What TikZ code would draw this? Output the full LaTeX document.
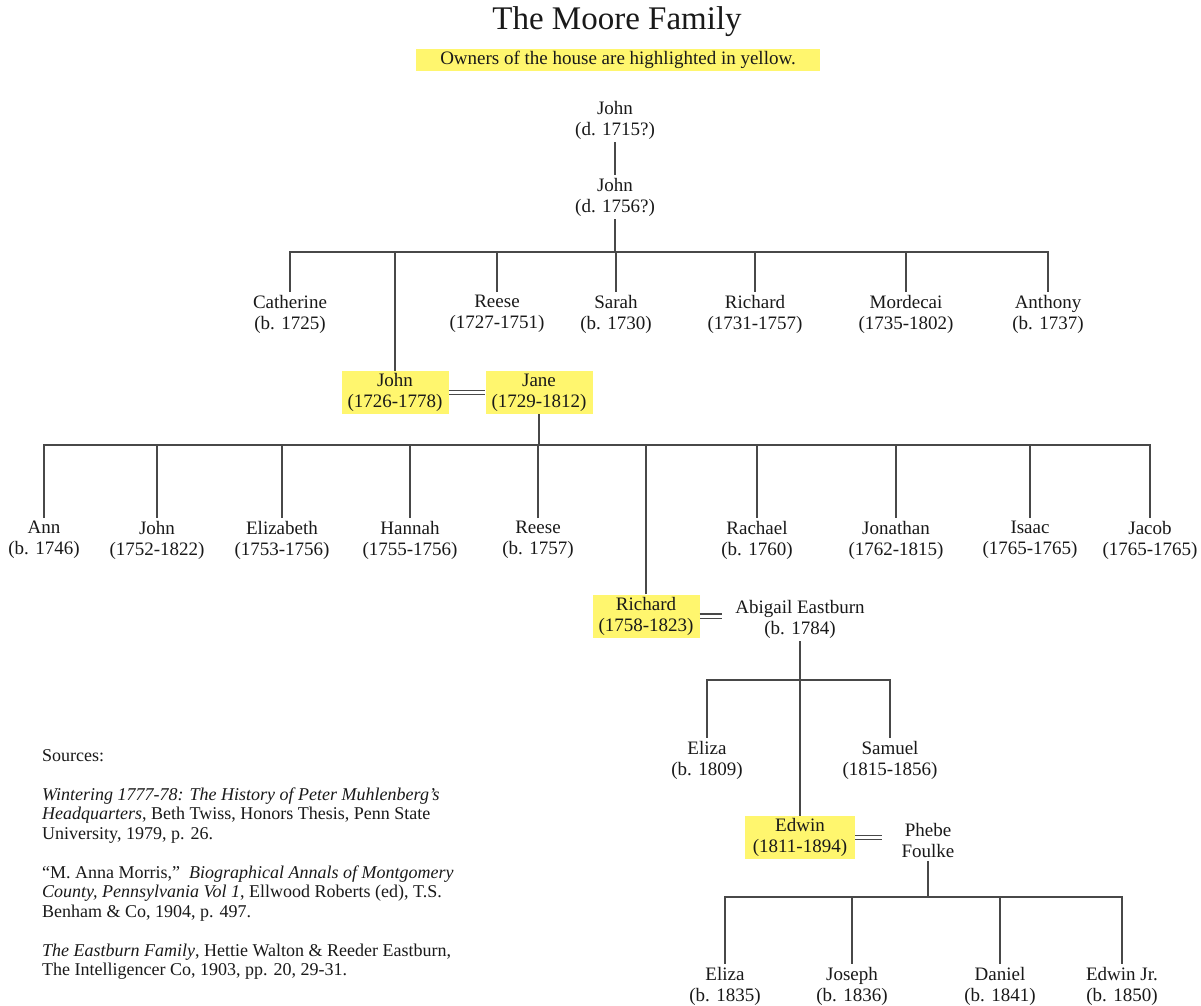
\documentclass[tikz,border=0pt]{standalone}
\usepackage{fontspec}
\setmainfont{Liberation Serif}
\definecolor{hl}{RGB}{255,246,110}
\definecolor{ln}{RGB}{72,72,72}
\begin{document}
\begin{tikzpicture}[x=1pt,y=-1pt,
  person/.style={align=center,font=\fontsize{19}{21}\selectfont,inner sep=3pt,text=black!90},
  owner/.style={person,fill=hl,minimum width=107,minimum height=43,inner sep=0pt},
  link/.style={draw=ln,line width=1.5pt},
  wed/.style={draw=ln,double=white,double distance=3pt,line width=1.2pt}]
\useasboundingbox[fill=white] (0,0) rectangle (1201,1005);

\node[font=\fontsize{33}{36}\selectfont,text=black!90] (title) at (617,22) {The Moore Family};
\node[fill=hl,minimum width=404,minimum height=22,inner sep=0pt,font=\fontsize{19}{21}\selectfont,text=black!90] (sub) at (618,60) {Owners of the house are highlighted in yellow.};

% generation 0/1
\node[person] (j1) at (615,120) {John\\(d. 1715?)};
\node[person] (j2) at (615,197) {John\\(d. 1756?)};
\draw[link] (j1.south) -- (j2.north);

% generation 2
\node[person] (cat)    at (290,314) {Catherine\\(b. 1725)};
\node[person] (reese1) at (497,314) {Reese\\(1727-1751)};
\node[person] (sarah)  at (616,314) {Sarah\\(b. 1730)};
\node[person] (rich1)  at (755,314) {Richard\\(1731-1757)};
\node[person] (mord)   at (906,314) {Mordecai\\(1735-1802)};
\node[person] (anth)   at (1048,314) {Anthony\\(b. 1737)};
\node[owner]  (jn)     at (395,392.5) {John\\(1726-1778)};
\node[owner]  (jane)   at (539,392.5) {Jane\\(1729-1812)};

\coordinate (b1) at (615,252);
\draw[link] (j2.south) -- (b1);
\draw[link] (cat.north) |- (b1 -| anth.north) -- (anth.north);
\foreach \n in {jn,reese1,sarah,rich1,mord} \draw[link] (\n.north) -- (\n.north |- b1);
\draw[wed] (jn.east) -- (jane.west);

% generation 3
\node[person] (ann)    at (44,540)   {Ann\\(b. 1746)};
\node[person] (john3)  at (157,540)  {John\\(1752-1822)};
\node[person] (eliz)   at (282,540)  {Elizabeth\\(1753-1756)};
\node[person] (hann)   at (410,540)  {Hannah\\(1755-1756)};
\node[person] (reese2) at (538,540)  {Reese\\(b. 1757)};
\node[person] (rach)   at (757,540)  {Rachael\\(b. 1760)};
\node[person] (jona)   at (896,540)  {Jonathan\\(1762-1815)};
\node[person] (isaac)  at (1030,540) {Isaac\\(1765-1765)};
\node[person] (jacob)  at (1150,540) {Jacob\\(1765-1765)};
\node[owner]  (rich2)  at (646,616)  {Richard\\(1758-1823)};

\coordinate (b2) at (539,445);
\draw[link] (jane.south) -- (b2);
\draw[link] (ann.north) |- (b2 -| jacob.north) -- (jacob.north);
\foreach \n in {john3,eliz,hann,reese2,rich2,rach,jona,isaac} \draw[link] (\n.north) -- (\n.north |- b2);

% generation 4
\node[person] (abig)   at (800,619) {Abigail Eastburn\\(b. 1784)};
\draw[wed,shorten >=10pt] (rich2.east) -- (rich2.east -| abig.west);
\node[person] (eliza1) at (707,760) {Eliza\\(b. 1809)};
\node[person] (sam)    at (890,760) {Samuel\\(1815-1856)};
\node[owner,minimum width=110] (ed) at (800,837.5) {Edwin\\(1811-1894)};
\coordinate (b3) at (800,680);
\draw[link] (abig.south) -- (ed.north);
\draw[link] (eliza1.north) |- (b3) -| (sam.north);

% generation 5
\node[person] (phebe)  at (928,840.5) {Phebe\\Foulke};
\draw[wed,shorten >=16pt] (ed.east) -- (ed.east -| phebe.west);
\node[person] (eliza2) at (725,986)  {Eliza\\(b. 1835)};
\node[person] (joseph) at (852,986)  {Joseph\\(b. 1836)};
\node[person] (daniel) at (1000,986) {Daniel\\(b. 1841)};
\node[person] (ej)     at (1122,986) {Edwin Jr.\\(b. 1850)};
\coordinate (b4) at (928,897);
\draw[link] (phebe.south) -- (b4);
\draw[link] (eliza2.north) |- (b4 -| ej.north) -- (ej.north);
\foreach \n in {joseph,daniel} \draw[link] (\n.north) -- (\n.north |- b4);

% sources
\node[anchor=north west,align=left,inner sep=0pt,font=\fontsize{18}{19.5}\selectfont,text=black!90] (src) at (42,749) {%
Sources:\\[19.5pt]
\textit{Wintering 1777-78: The History of Peter Muhlenberg’s}\\
\textit{Headquarters}, Beth Twiss, Honors Thesis, Penn State\\
University, 1979, p. 26.\\[19.5pt]
“M. Anna Morris,”\ \ \textit{Biographical Annals of Montgomery}\\
\textit{County, Pennsylvania Vol 1}, Ellwood Roberts (ed), T.S.\\
Benham \& Co, 1904, p. 497.\\[19.5pt]
\textit{The Eastburn Family}, Hettie Walton \& Reeder Eastburn,\\
The Intelligencer Co, 1903, pp. 20, 29-31.};
\end{tikzpicture}
\end{document}
